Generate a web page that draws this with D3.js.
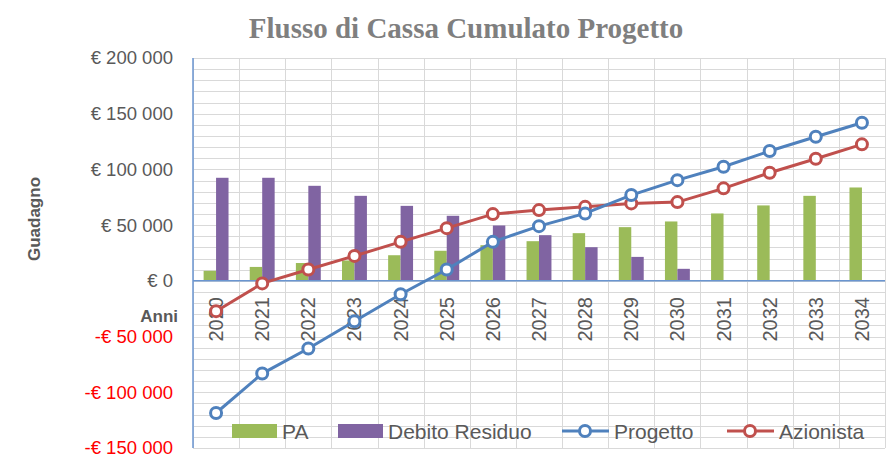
<!DOCTYPE html>
<html>
<head>
<meta charset="utf-8">
<script src="https://cdn.jsdelivr.net/npm/d3@7"></script>
<style>
  body { margin: 0; background: #fff; }
  svg { display: block; font-family: "Liberation Sans", Arial, sans-serif; }
</style>
</head>
<body>
<script>
// data
const years = ['2020','2021','2022','2023','2024','2025','2026','2027','2028','2029','2030','2031','2032','2033','2034'];
const pa = [9000, 12500, 16000, 18300, 23000, 27000, 32000, 35600, 42800, 48200, 53300, 60500, 67700, 76300, 83800];
const debito = [92500, 92500, 85300, 76300, 67300, 58400, 49700, 41000, 30200, 21500, 10800, 0, 0, 0, 0];
const progetto = [-118600, -83200, -60700, -36200, -12000, 10200, 35000, 49100, 60500, 77000, 90400, 102400, 116500, 129300, 141900];
const azionista = [-27200, -2300, 10200, 22400, 35000, 47300, 59900, 63500, 66400, 69500, 70700, 83000, 97000, 109600, 122500];
const yTicks = [-150000, -100000, -50000, 0, 50000, 100000, 150000, 200000];

const W = 895, H = 463;
const plotL = 193, plotR = 885, plotT = 58, plotB = 448;

const textGray = '#595959';
const gridGray = '#d9d9d9';
const axisBlue = '#6a95d0';
const colors = {PA: '#9bbb59', Debito: '#8064a2', Progetto: '#4f81bd', Azionista: '#c0504d'};

const svg = d3.select('body').append('svg')
  .attr('width', W)
  .attr('height', H);

let x = d3.scaleBand().domain(years).range([plotL, plotR]).padding(0);
let y = d3.scaleLinear().domain([-150000, 200000]).range([plotB, plotT]);
let x1 = d3.scaleBand().domain(['PA', 'Debito'])
  .range([x.bandwidth() * 0.23, x.bandwidth() * 0.77]);

function fmt(v) {
  let s = d3.format(',')(Math.abs(v)).replace(/,/g, ' ');
  return (v < 0 ? '-€ ' : '€ ') + s;
}

// title
svg.append('text')
  .attr('x', 466)
  .attr('y', 38)
  .attr('text-anchor', 'middle')
  .style('font-family', '"Liberation Serif", serif')
  .style('font-weight', 'bold')
  .style('font-size', '29px')
  .style('fill', '#7f7f7f')
  .text('Flusso di Cassa Cumulato Progetto');

// gridlines
let grid = svg.append('g');
grid.selectAll('.hg')
  .data(d3.range(-150000, 200001, 10000))
  .enter().append('line')
  .attr('x1', plotL).attr('x2', plotR)
  .attr('y1', d => Math.round(y(d)) + 0.5)
  .attr('y2', d => Math.round(y(d)) + 0.5)
  .attr('stroke', gridGray).attr('stroke-width', 1);
grid.selectAll('.vg')
  .data(years.concat(['end']))
  .enter().append('line')
  .attr('x1', d => Math.round(d === 'end' ? plotR : x(d)) + 0.5)
  .attr('x2', d => Math.round(d === 'end' ? plotR : x(d)) + 0.5)
  .attr('y1', plotT).attr('y2', plotB)
  .attr('stroke', gridGray).attr('stroke-width', 1);

// bars
let barData = [];
years.forEach((yr, i) => {
  barData.push({year: yr, key: 'PA', value: pa[i]});
  barData.push({year: yr, key: 'Debito', value: debito[i]});
});
svg.append('g').selectAll('rect')
  .data(barData.filter(d => d.value > 0))
  .enter().append('rect')
  .attr('x', d => x(d.year) + x1(d.key))
  .attr('width', x1.bandwidth())
  .attr('y', d => y(d.value))
  .attr('height', d => y(0) - y(d.value))
  .attr('fill', d => colors[d.key]);

// zero line + left axis
svg.append('line')
  .attr('x1', plotL).attr('x2', plotR)
  .attr('y1', y(0)).attr('y2', y(0))
  .attr('stroke', axisBlue).attr('stroke-width', 1.5);
svg.append('line')
  .attr('x1', plotL).attr('x2', plotL)
  .attr('y1', plotT).attr('y2', plotB)
  .attr('stroke', axisBlue).attr('stroke-width', 1.5);

// y tick labels
svg.append('g').selectAll('text')
  .data(yTicks)
  .enter().append('text')
  .attr('x', 173)
  .attr('y', d => y(d))
  .attr('dy', '0.35em')
  .attr('text-anchor', 'end')
  .style('font-size', '18.5px')
  .style('fill', d => d < 0 ? '#ff0000' : textGray)
  .text(fmt);

// x tick labels (rotated)
svg.append('g').selectAll('text')
  .data(years)
  .enter().append('text')
  .attr('transform', d => 'translate(' + (x(d) + x.bandwidth() / 2 + 7) + ',297) rotate(-90)')
  .attr('text-anchor', 'end')
  .style('font-size', '20px')
  .style('fill', textGray)
  .text(d => d);

// axis titles
svg.append('text')
  .attr('transform', 'translate(40,219) rotate(-90)')
  .attr('text-anchor', 'middle')
  .style('font-size', '17px')
  .style('font-weight', 'bold')
  .style('fill', textGray)
  .text('Guadagno');
svg.append('text')
  .attr('x', 178)
  .attr('y', 322)
  .attr('text-anchor', 'end')
  .style('font-size', '17px')
  .style('font-weight', 'bold')
  .style('fill', textGray)
  .text('Anni');

// lines
const lineSeries = [
  {key: 'Azionista', values: azionista},
  {key: 'Progetto', values: progetto}
];
let line = d3.line()
  .x((d, i) => x(years[i]) + x.bandwidth() / 2)
  .y(d => y(d));
lineSeries.forEach(s => {
  let g = svg.append('g');
  g.append('path')
    .attr('d', line(s.values))
    .attr('fill', 'none')
    .attr('stroke', colors[s.key])
    .attr('stroke-width', 3);
  g.selectAll('circle')
    .data(s.values)
    .enter().append('circle')
    .attr('cx', (d, i) => x(years[i]) + x.bandwidth() / 2)
    .attr('cy', d => y(d))
    .attr('r', 5.5)
    .attr('fill', '#fff')
    .attr('stroke', colors[s.key])
    .attr('stroke-width', 3);
});

// legend
let legend = svg.append('g');
const legendItems = [
  {label: 'PA', key: 'PA', type: 'bar', x: 232},
  {label: 'Debito Residuo', key: 'Debito', type: 'bar', x: 338},
  {label: 'Progetto', key: 'Progetto', type: 'line', x: 562},
  {label: 'Azionista', key: 'Azionista', type: 'line', x: 727}
];
legendItems.forEach(it => {
  if (it.type === 'bar') {
    legend.append('rect')
      .attr('x', it.x).attr('y', 424)
      .attr('width', 45).attr('height', 14)
      .attr('fill', colors[it.key]);
  } else {
    legend.append('line')
      .attr('x1', it.x).attr('x2', it.x + 47)
      .attr('y1', 431).attr('y2', 431)
      .attr('stroke', colors[it.key]).attr('stroke-width', 3);
    legend.append('circle')
      .attr('cx', it.x + 23).attr('cy', 431).attr('r', 5.5)
      .attr('fill', '#fff')
      .attr('stroke', colors[it.key]).attr('stroke-width', 3);
  }
  legend.append('text')
    .attr('x', it.x + (it.type === 'bar' ? 50 : 52))
    .attr('y', 438.5)
    .style('font-size', '21px')
    .style('fill', textGray)
    .text(it.label);
});
</script>
</body>
</html>
